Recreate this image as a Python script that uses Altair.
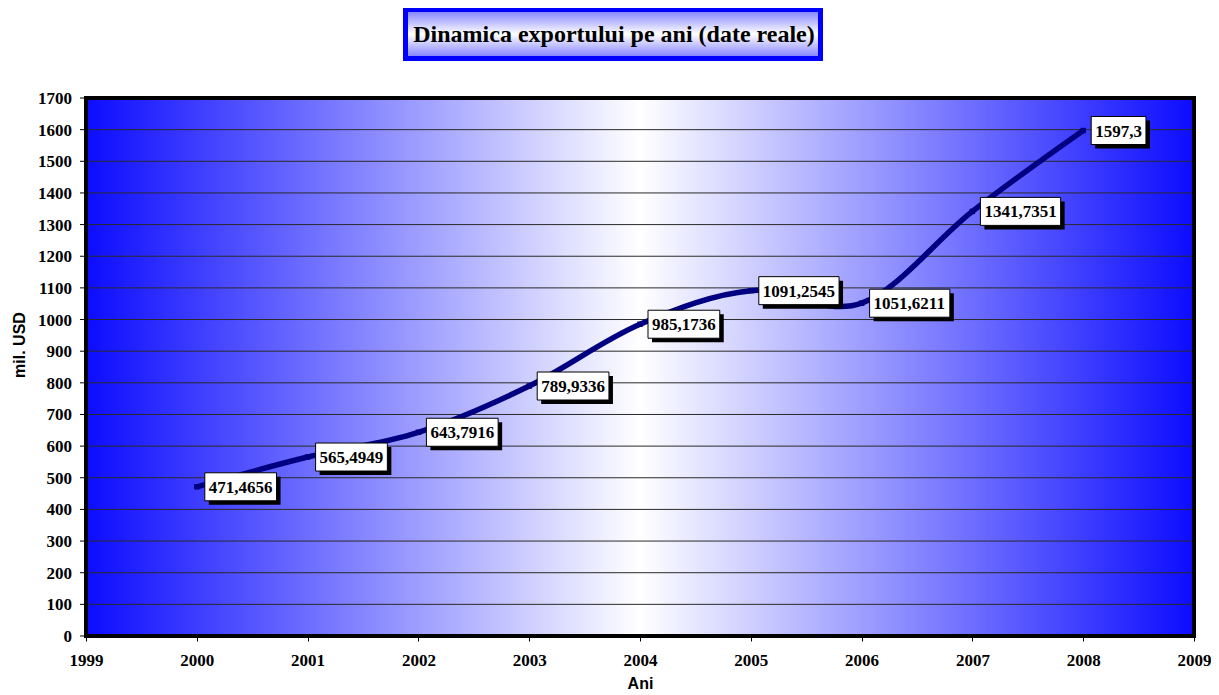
import altair as alt
import pandas as pd

# ---- data ----
years = [2000, 2001, 2002, 2003, 2004, 2005, 2006, 2007, 2008]
values = [471.4656, 565.4949, 643.7916, 789.9336, 985.1736, 1091.2545, 1051.6211, 1341.7351, 1597.3]
labels = ["471,4656", "565,4949", "643,7916", "789,9336", "985,1736",
          "1091,2545", "1051,6211", "1341,7351", "1597,3"]
x_ticks = list(range(1999, 2010))
y_ticks = list(range(0, 1800, 100))
title_text = "Dinamica exportului pe ani (date reale)"
x_title = "Ani"
y_title = "mil. USD"

W, H = 1108, 538
NAVY = "#000080"
SERIF = "Liberation Serif"
SANS = "Liberation Sans"

df = pd.DataFrame({"year": years, "value": values, "label": labels})
df["nchar"] = df["label"].str.len()
ydf = pd.DataFrame({"v": y_ticks})
one = pd.DataFrame({"a": [0]})

xscale = alt.Scale(domain=[1999, 2009], nice=False, zero=False)
yscale = alt.Scale(domain=[0, 1700], nice=False)

x_axis = alt.Axis(values=x_ticks, format="d", title=x_title, grid=False,
                  tickSize=5, labelPadding=11, titlePadding=7, labelFlush=False,
                  labelOverlap=False)

bg_grad = alt.Gradient(
    gradient="linear", x1=0, x2=1, y1=0, y2=0,
    stops=[alt.GradientStop(color="#0c0cff", offset=0),
           alt.GradientStop(color="#ffffff", offset=0.5),
           alt.GradientStop(color="#0c0cff", offset=1)])

title_grad = alt.Gradient(
    gradient="linear", x1=0, x2=0, y1=0, y2=1,
    stops=[alt.GradientStop(color="#7a7aff", offset=0),
           alt.GradientStop(color="#ffffff", offset=0.5),
           alt.GradientStop(color="#7a7aff", offset=1)])

background = alt.Chart(one).mark_rect(fill=bg_grad).encode(
    x=alt.value(0), x2=alt.value(W), y=alt.value(0), y2=alt.value(H))

grid = alt.Chart(ydf).mark_rule(color="#2a2a2a", strokeWidth=1).encode(
    y=alt.Y("v:Q", scale=yscale, axis=None),
    x=alt.value(0), x2=alt.value(W))

yticks = alt.Chart(ydf).mark_rule(color="black", strokeWidth=1).encode(
    y=alt.Y("v:Q", scale=yscale, axis=None),
    x=alt.value(-6), x2=alt.value(0))

ylabels = alt.Chart(ydf).mark_text(
    align="right", baseline="middle", dy=1, font=SERIF, fontWeight="bold",
    fontSize=17, color="black").encode(
    y=alt.Y("v:Q", scale=yscale, axis=None), x=alt.value(-14),
    text=alt.Text("v:Q", format="d"))

ytitle = alt.Chart(one).mark_text(
    align="center", baseline="middle", angle=270, font=SANS, fontWeight="bold",
    fontSize=16, color="black").encode(
    x=alt.value(-66), y=alt.value(247), text=alt.value(y_title))

line = alt.Chart(df).mark_line(
    color=NAVY, strokeWidth=5.5, interpolate="cardinal").encode(
    x=alt.X("year:Q", scale=xscale, axis=x_axis),
    y=alt.Y("value:Q", scale=yscale, axis=None))

points = alt.Chart(df).mark_point(
    shape="square", filled=True, color=NAVY, size=30, opacity=1).encode(
    x=alt.X("year:Q", scale=xscale), y=alt.Y("value:Q", scale=yscale))

border = alt.Chart(one).mark_rect(
    fill="transparent", stroke="black", strokeWidth=4).encode(
    x=alt.value(0), x2=alt.value(W), y=alt.value(0), y2=alt.value(H))

layers = [background, grid, yticks, ylabels, ytitle, line, points, border]

# label boxes (width from label length), with black drop shadow
for n in sorted(df["nchar"].unique()):
    w = (n - 1) * 8.5 + 4.25 + 8
    sub = alt.Chart(df).transform_filter(alt.datum.nchar == int(n))
    enc = dict(x=alt.X("year:Q", scale=xscale), x2="year",
               y=alt.Y("value:Q", scale=yscale), y2="value")
    shadow = sub.mark_rect(fill="black", xOffset=8 + 4, x2Offset=8 + w + 4,
                           yOffset=-14 + 4, y2Offset=14 + 4).encode(**enc)
    box = sub.mark_rect(fill="white", stroke="black", strokeWidth=1,
                        xOffset=8, x2Offset=8 + w,
                        yOffset=-14, y2Offset=14).encode(**enc)
    layers += [shadow, box]

text = alt.Chart(df).mark_text(
    align="left", baseline="middle", dx=12, dy=1, font=SERIF,
    fontWeight="bold", fontSize=17, color="black").encode(
    x=alt.X("year:Q", scale=xscale), y=alt.Y("value:Q", scale=yscale),
    text="label:N")

title_box = alt.Chart(one).mark_rect(
    fill=title_grad, stroke="#0000ff", strokeWidth=5).encode(
    x=alt.value(319.5), x2=alt.value(734.5), y=alt.value(-88.5), y2=alt.value(-39.5))

title_txt = alt.Chart(one).mark_text(
    align="center", baseline="middle", font=SERIF, fontWeight="bold",
    fontSize=24, color="black").encode(
    x=alt.value(528), y=alt.value(-63), text=alt.value(title_text))

layers += [text, title_box, title_txt]

chart = alt.layer(*layers).properties(
    width=W, height=H,
    autosize=alt.AutoSizeParams(type="none"),
    padding={"left": 78, "top": 90, "right": 17, "bottom": 58},
).configure_view(
    stroke="transparent"
).configure_axis(
    labelFont=SERIF, labelFontWeight="bold", labelFontSize=17, labelColor="black",
    tickColor="black", tickWidth=1, domain=False, labelOverlap=False,
    titleFont=SANS, titleFontWeight="bold", titleFontSize=16, titleColor="black",
)

chart.save("out.html", embed_options={"renderer": "svg", "actions": False})
